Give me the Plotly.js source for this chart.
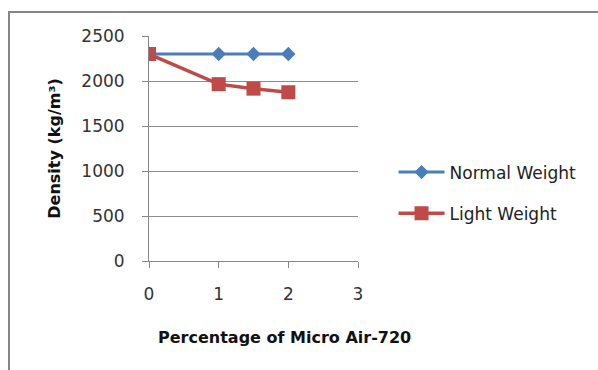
<!DOCTYPE html>
<html><head><meta charset="utf-8">
<script src="https://cdn.plot.ly/plotly-3.0.1.min.js"></script>
<style>
html,body{margin:0;padding:0;background:#fff;}
#wrap{position:relative;width:598px;height:370px;}
#chart{position:absolute;left:0;top:0;width:598px;height:370px;}
#frame{position:absolute;left:8px;top:11px;width:590px;height:359px;border-left:2px solid #868686;border-top:2px solid #868686;pointer-events:none;}
</style></head>
<body>
<div id="wrap"><div id="chart"></div><div id="frame"></div></div>
<script>
const xNormal = [0, 1, 1.5, 2];
const normalWeight = [2300, 2300, 2300, 2300];
const xLight = [0, 1, 1.5, 2];
const lightWeight = [2300, 1965, 1915, 1875];
const yTicks = [0, 500, 1000, 1500, 2000, 2500];
const xTicks = [0, 1, 2, 3];

const FONT = '"DejaVu Sans", sans-serif';

const traces = [
  {x: xNormal, y: normalWeight, name: 'Normal Weight', type: 'scatter', mode: 'lines+markers',
   line: {color: '#4A7EBB', width: 3}, marker: {symbol: 'diamond', size: 11, color: '#4A7EBB'},
   legendgroup: 'a'},
  {x: xLight, y: lightWeight, name: 'Light Weight', type: 'scatter', mode: 'lines+markers',
   line: {color: '#BE4B48', width: 3.5}, marker: {symbol: 'square', size: 14, color: '#BE4B48'},
   legendgroup: 'b'}
];

const layout = {
  width: 598, height: 370,
  margin: {l: 149, r: 240, t: 36, b: 109},
  paper_bgcolor: 'rgba(0,0,0,0)', plot_bgcolor: '#fff',
  font: {family: FONT, size: 17, color: '#333'},
  showlegend: true,
  legend: {x: 1.17, xanchor: 'left', y: 0.302, yanchor: 'middle', tracegroupgap: 16, itemwidth: 46,
    font: {family: FONT, size: 17, color: '#222'}, bgcolor: 'rgba(0,0,0,0)'},
  xaxis: {range: [0, 3], tickvals: xTicks, ticks: 'outside', ticklen: 6, tickcolor: '#868686',
    showline: true, linecolor: '#868686', linewidth: 1, showgrid: false, zeroline: false,
    ticklabelstandoff: 12, tickfont: {family: FONT, size: 17, color: '#333'}},
  yaxis: {range: [0, 2500], tickvals: yTicks, ticks: 'outside', ticklen: 6, tickcolor: '#868686',
    showline: true, linecolor: '#868686', linewidth: 1, gridcolor: '#8c8c8c', gridwidth: 1, zeroline: false,
    ticklabelstandoff: 14, tickfont: {family: FONT, size: 17, color: '#333'},
    title: {text: '<b>Density (kg/m³)</b>', standoff: 16, font: {family: FONT, size: 16, color: '#111'}}},
  annotations: [
    {xref: 'paper', yref: 'paper', x: 0.648, y: -0.34, xanchor: 'center', yanchor: 'middle',
     text: '<b>Percentage of Micro Air-720</b>', showarrow: false,
     font: {family: FONT, size: 16, color: '#111'}}
  ]
};
Plotly.newPlot('chart', traces, layout, {displayModeBar: false, staticPlot: true});
</script>
</body></html>
